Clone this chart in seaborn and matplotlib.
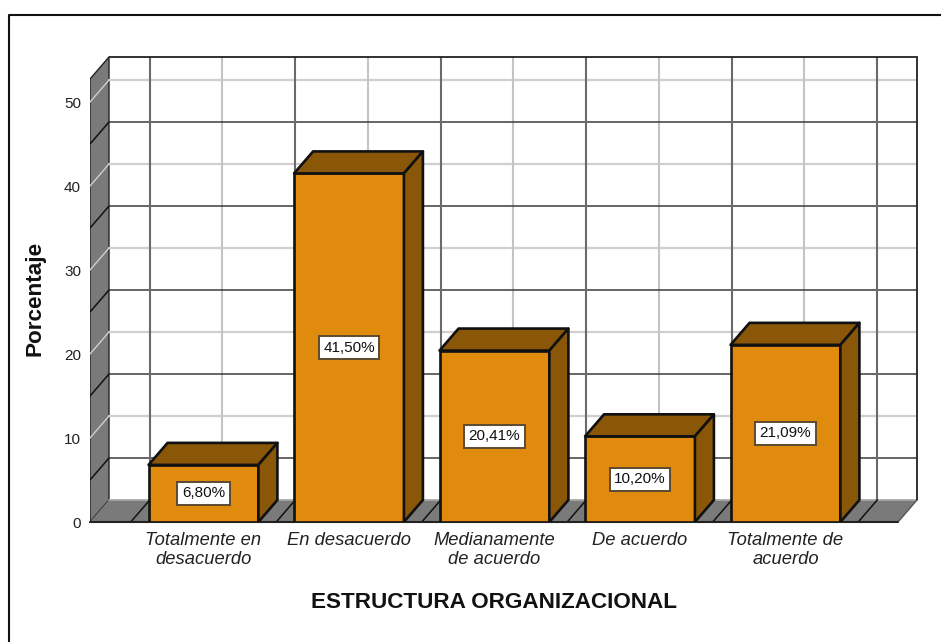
import matplotlib
matplotlib.use('Agg')
import matplotlib.pyplot as plt
from matplotlib.lines import Line2D
from matplotlib.patches import Polygon
import pandas as pd
import seaborn as sns

categorias = ['Totalmente en\ndesacuerdo', 'En desacuerdo', 'Medianamente\nde acuerdo',
              'De acuerdo', 'Totalmente de\nacuerdo']
porcentajes = [6.80, 41.50, 20.41, 10.20, 21.09]
etiquetas = ['6,80%', '41,50%', '20,41%', '10,20%', '21,09%']
ticks_y = [0, 10, 20, 30, 40, 50]
ticks_medios = [5, 15, 25, 35, 45]

naranja = '#e08a0e'
marron = '#8a5608'
gris_pared = '#7a7a7a'
gris_claro = '#cfcfcf'
gris_oscuro = '#3c3c3c'

sns.set_theme(style='white')
plt.rcParams['font.family'] = ['Liberation Sans', 'DejaVu Sans']

W, H = 941, 642
fig = plt.figure(figsize=(W / 100, H / 100), dpi=100)
# eje frontal: de x=90 a x=917 y de y=522 a y=57 (pixeles)
ax = fig.add_axes([90 / W, 1 - 522 / H, 827 / W, 465 / H])

df = pd.DataFrame({'categoria': categorias, 'porcentaje': porcentajes})
sns.barplot(data=df, x='categoria', y='porcentaje', color=naranja, saturation=1,
            width=0.755, edgecolor='#111111', linewidth=1.9, ax=ax, zorder=5)

x0, x1 = -0.78, 4.904
y0, y1 = 0, 55.36
ax.set_xlim(x0, x1)
ax.set_ylim(y0, y1)

# profundidad del efecto 3D en unidades de datos
dx = 19 / 145.5
dy = 22 / 8.4

# paredes
ax.add_patch(Polygon([(x0, 0), (x0 + dx, dy), (x0 + dx, y1), (x0, y1 - dy)], closed=True,
                     fc=gris_pared, ec='#222222', lw=1, zorder=1))
ax.add_patch(Polygon([(x0, 0), (x0 + dx, dy), (x1, dy), (x1 - dx, 0)], closed=True,
                     fc=gris_pared, ec='none', zorder=1))

# rejilla horizontal
for v in ticks_y[1:]:
    ax.plot([x0 + dx, x1], [v + dy, v + dy], color=gris_claro, lw=1.6, zorder=2)
    ax.plot([x0, x0 + dx], [v, v + dy], color=gris_claro, lw=1, zorder=2)
for v in ticks_medios:
    ax.plot([x0 + dx, x1], [v + dy, v + dy], color=gris_oscuro, lw=1.1, zorder=3)
    ax.plot([x0, x0 + dx], [v, v + dy], color='#111111', lw=1.1, zorder=3)

# rejilla vertical
for i in range(len(categorias)):
    ax.plot([i + dx, i + dx], [dy, y1], color='#c4c4c4', lw=1.5, zorder=2)
for i in range(len(categorias) + 1):
    ax.plot([i - 0.5 + dx, i - 0.5 + dx], [dy, y1], color='#6a6a6a', lw=1.5, zorder=3)
    ax.plot([i - 0.5, i - 0.5 + dx], [0, dy], color='#111111', lw=1.1, zorder=3)

# bordes del fondo
ax.plot([x0 + dx, x1, x1], [y1, y1, dy], color='#222222', lw=1.3,
        zorder=4, clip_on=False, solid_joinstyle='miter')
ax.plot([x1, x1 - dx], [dy, 0], color='#555555', lw=1, zorder=4)
ax.plot([x1 - dx, x0], [0, 0], color='#222222', lw=1.5, zorder=4, clip_on=False)
ax.plot([x0 + dx, x1], [dy, dy], color='#a8a8a8', lw=1.3, zorder=2)

# caras superior y lateral de las barras, y etiquetas
for barra, texto in zip(ax.patches[:len(categorias)], etiquetas):
    xa = barra.get_x()
    xb = xa + barra.get_width()
    h = barra.get_height()
    ax.add_patch(Polygon([(xa, h), (xa + dx, h + dy), (xb + dx, h + dy), (xb, h)], closed=True,
                         fc=marron, ec='#111111', lw=1.9, zorder=5, joinstyle='round'))
    ax.add_patch(Polygon([(xb, 0), (xb + dx, dy), (xb + dx, h + dy), (xb, h)], closed=True,
                         fc=marron, ec='#111111', lw=1.9, zorder=5, joinstyle='round'))
    ax.text(xa + barra.get_width() / 2, h / 2, texto, ha='center', va='center', fontsize=11,
            color='#111111', zorder=7,
            bbox=dict(boxstyle='square,pad=0.3', fc='white', ec='#5c4a30', lw=1.4))

sns.despine(ax=ax, left=True, bottom=True, top=True, right=True)
ax.patch.set_visible(False)

ax.set_yticks(ticks_y)
ax.set_yticklabels([str(t) for t in ticks_y], fontsize=11, color='#222222')
ax.set_xticks(range(len(categorias)))
ax.set_xticklabels(categorias, fontsize=13.2, style='italic', color='#222222', linespacing=1.2)
ax.tick_params(axis='y', length=0, pad=6.5)
ax.tick_params(axis='x', length=0, pad=7)

ax.set_xlabel('')
ax.set_ylabel('')
fig.text(494 / W, 1 - 602 / H, 'ESTRUCTURA ORGANIZACIONAL', ha='center', va='center',
         fontsize=16.2, fontweight='bold', color='#111111')
fig.text(35 / W, 1 - 298 / H, 'Porcentaje', ha='center', va='center', rotation=90,
         fontsize=16.2, fontweight='bold', color='#111111')

# marco de la imagen
fig.add_artist(Line2D([8.5 / W, 8.5 / W, 1], [0, 1 - 14.5 / H, 1 - 14.5 / H], color='#111111', lw=1.5))

fig.savefig('out.png', dpi=100)
